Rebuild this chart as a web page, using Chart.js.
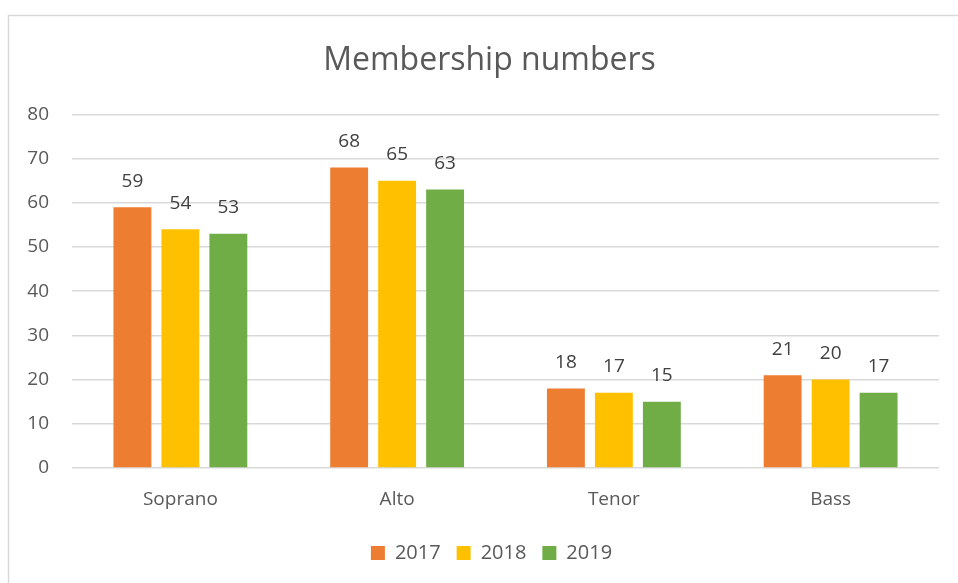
<!DOCTYPE html>
<html>
<head>
<meta charset="utf-8">
<script src="https://cdn.jsdelivr.net/npm/chart.js@4"></script>
<style>
  html, body { margin: 0; padding: 0; background: #fff; }
  #wrap { width: 958px; height: 583px; position: relative; }
</style>
</head>
<body>
<div id="wrap"><canvas id="chart" width="958" height="583"></canvas></div>
<script>
// chart data
const categories = ['Soprano', 'Alto', 'Tenor', 'Bass'];
const years = ['2017', '2018', '2019'];
const values2017 = [59, 68, 18, 21];
const values2018 = [54, 65, 17, 20];
const values2019 = [53, 63, 15, 17];
const yTicks = [0, 10, 20, 30, 40, 50, 60, 70, 80];

const colors = ['#ED7D31', '#FFC000', '#70AD47'];
const FONT = '"Open Sans", sans-serif';

// outer frame like the office chart border
const framePlugin = {
    id: 'frame',
    beforeDraw(chart) {
        const ctx = chart.ctx;
        ctx.save();
        ctx.fillStyle = '#fff';
        ctx.fillRect(0, 0, chart.width, chart.height);
        ctx.strokeStyle = '#d9d9d9';
        ctx.lineWidth = 1.5;
        ctx.strokeRect(8.5, 15.5, chart.width + 20, chart.height + 20);
        ctx.restore();
    },
    // title and legend sit a bit right of centre in the original
    afterLayout(chart) {
        if (chart.legend) {
            chart.legend.left += 18;
            chart.legend.right += 18;
        }
        if (chart.titleBlock) {
            chart.titleBlock.left += 16;
            chart.titleBlock.right += 16;
        }
    }
};

// value labels above each bar
const valueLabels = {
    id: 'valueLabels',
    afterDatasetsDraw(chart) {
        const ctx = chart.ctx;
        ctx.save();
        ctx.font = '19px ' + FONT;
        ctx.fillStyle = '#404040';
        ctx.textAlign = 'center';
        ctx.textBaseline = 'middle';
        chart.data.datasets.forEach((ds, i) => {
            chart.getDatasetMeta(i).data.forEach((bar, j) => {
                ctx.fillText(ds.data[j], bar.x, bar.y - 26);
            });
        });
        ctx.restore();
    }
};

new Chart(document.getElementById('chart'), {
    type: 'bar',
    data: {
        labels: categories,
        datasets: [values2017, values2018, values2019].map((vals, i) => ({
            label: years[i],
            data: vals,
            backgroundColor: colors[i],
            categoryPercentage: 0.664,
            barPercentage: 0.79
        }))
    },
    options: {
        responsive: false,
        animation: false,
        layout: { padding: { left: 8, right: 19, top: 0, bottom: 10 } },
        plugins: {
            title: {
                display: true,
                text: 'Membership numbers',
                color: '#595959',
                font: { family: FONT, size: 32, weight: 'normal' },
                padding: { top: 42, bottom: 34 }
            },
            legend: {
                position: 'bottom',
                labels: {
                    color: '#595959',
                    font: { family: FONT, size: 20 },
                    boxWidth: 14,
                    boxHeight: 14,
                    padding: 16
                }
            },
            tooltip: { enabled: false }
        },
        scales: {
            x: {
                grid: { display: false },
                border: { display: false },
                ticks: { color: '#595959', font: { family: FONT, size: 19 }, padding: 12 },
                afterFit(scale) { scale.height = 59; }
            },
            y: {
                min: 0,
                max: 80,
                afterBuildTicks(scale) { scale.ticks = yTicks.map(v => ({ value: v })); },
                grid: { color: '#d9d9d9', lineWidth: 1.5, drawTicks: false },
                border: { display: false },
                ticks: { color: '#595959', font: { family: FONT, size: 19 }, padding: 23 },
                afterFit(scale) { scale.width = 64; }
            }
        }
    },
    plugins: [framePlugin, valueLabels]
});
</script>
</body>
</html>
